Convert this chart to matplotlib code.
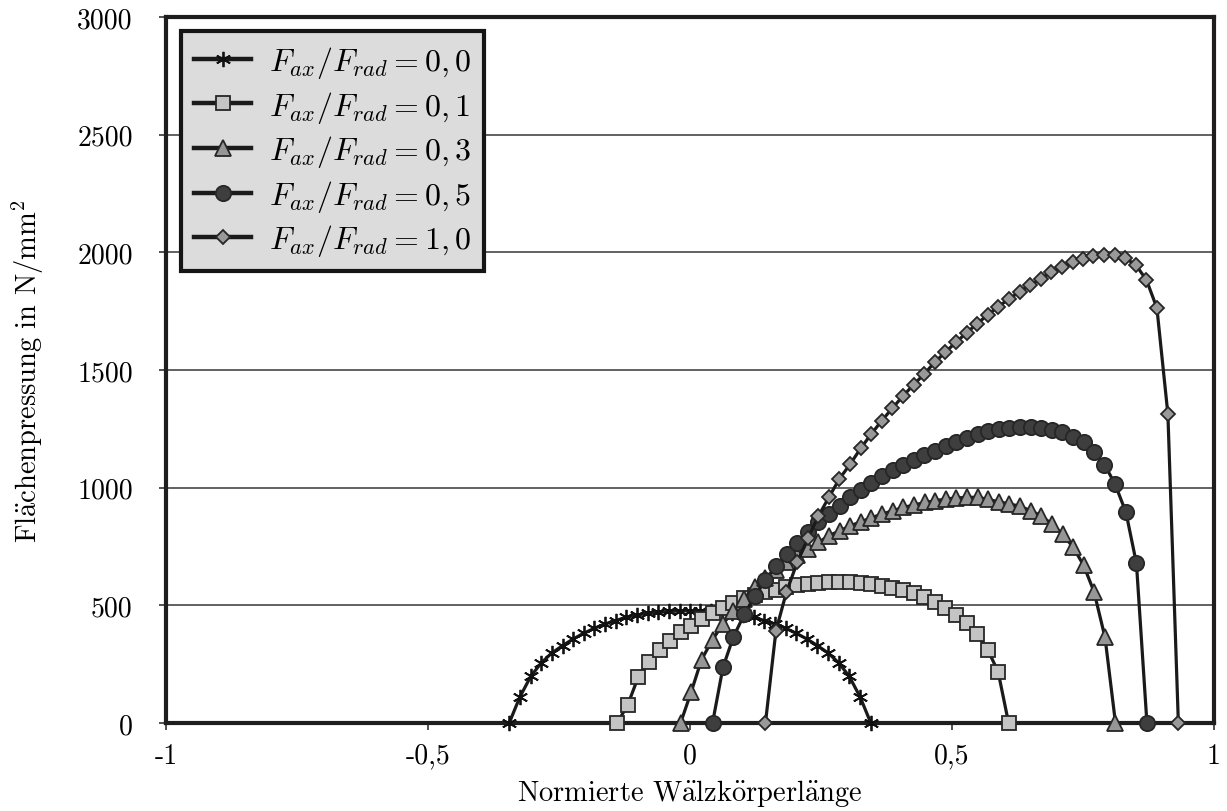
import matplotlib
matplotlib.use("Agg")
import matplotlib.pyplot as plt

plt.rcParams["font.family"] = ["cmr10", "DejaVu Serif"]
plt.rcParams["mathtext.fontset"] = "cm"
plt.rcParams["axes.unicode_minus"] = False

# Flächenpressung entlang der normierten Wälzkörperlänge
x_00 = [-0.345, -0.325, -0.304, -0.284, -0.264, -0.243, -0.223, -0.203, -0.183,
        -0.162, -0.142, -0.122, -0.101, -0.081, -0.061, -0.041, -0.020, 0.000,
        0.020, 0.041, 0.061, 0.081, 0.101, 0.122, 0.142, 0.162, 0.183, 0.203,
        0.223, 0.243, 0.264, 0.284, 0.304, 0.325, 0.345]
p_00 = [0, 109, 198, 255, 297, 329, 357, 381, 402, 421, 435, 449, 459, 466, 470,
        474, 476, 477, 476, 474, 470, 466, 459, 449, 435, 421, 402, 381, 357, 329,
        297, 255, 198, 109, 0]

x_01 = [-0.139, -0.119, -0.099, -0.078, -0.058, -0.038, -0.018, 0.002, 0.023,
        0.043, 0.063, 0.083, 0.103, 0.124, 0.144, 0.164, 0.184, 0.204, 0.225,
        0.245, 0.265, 0.285, 0.305, 0.326, 0.346, 0.366, 0.386, 0.406, 0.427,
        0.447, 0.467, 0.487, 0.507, 0.528, 0.548, 0.568, 0.588, 0.608]
p_01 = [0, 76, 194, 258, 312, 350, 385, 414, 442, 467, 487, 510, 530, 545, 555,
        566, 579, 585, 591, 595, 598, 598, 598, 595, 591, 584, 575, 564, 551, 534,
        513, 487, 459, 425, 378, 312, 218, 0]

x_03 = [-0.018, 0.002, 0.022, 0.043, 0.063, 0.083, 0.103, 0.124, 0.144, 0.164,
        0.184, 0.205, 0.225, 0.245, 0.265, 0.286, 0.306, 0.326, 0.346, 0.367,
        0.387, 0.407, 0.427, 0.448, 0.468, 0.488, 0.508, 0.528, 0.549, 0.569,
        0.589, 0.609, 0.630, 0.650, 0.670, 0.690, 0.711, 0.731, 0.751, 0.771,
        0.792, 0.812]
p_03 = [0, 130, 269, 354, 421, 477, 527, 576, 615, 652, 686, 714, 739, 767, 796,
        817, 838, 855, 872, 888, 902, 916, 926, 937, 944, 952, 956, 959, 959, 950,
        940, 931, 921, 902, 881, 846, 803, 747, 671, 558, 364, 0]

x_05 = [0.043, 0.063, 0.083, 0.104, 0.124, 0.144, 0.164, 0.185, 0.205, 0.225,
        0.245, 0.265, 0.286, 0.306, 0.326, 0.346, 0.367, 0.387, 0.407, 0.427,
        0.447, 0.468, 0.488, 0.508, 0.528, 0.549, 0.569, 0.589, 0.609, 0.629,
        0.650, 0.670, 0.690, 0.710, 0.730, 0.751, 0.771, 0.791, 0.811, 0.832,
        0.852, 0.872]
p_05 = [0, 237, 367, 463, 540, 607, 667, 718, 765, 810, 852, 888, 923, 959, 992,
        1020, 1048, 1075, 1098, 1119, 1139, 1157, 1176, 1194, 1212, 1226, 1242,
        1250, 1254, 1256, 1256, 1252, 1245, 1235, 1217, 1193, 1153, 1098, 1016,
        895, 678, 0]

x_10 = [0.144, 0.164, 0.184, 0.205, 0.225, 0.245, 0.265, 0.285, 0.306, 0.326,
        0.346, 0.366, 0.386, 0.407, 0.427, 0.447, 0.467, 0.487, 0.508, 0.528,
        0.548, 0.568, 0.588, 0.609, 0.629, 0.649, 0.669, 0.689, 0.710, 0.730,
        0.750, 0.770, 0.790, 0.811, 0.831, 0.851, 0.871, 0.891, 0.912, 0.932]
p_10 = [0, 392, 556, 685, 785, 879, 959, 1037, 1101, 1168, 1228, 1285, 1337,
        1391, 1438, 1483, 1533, 1575, 1619, 1658, 1697, 1734, 1769, 1802, 1833,
        1861, 1887, 1915, 1936, 1958, 1972, 1983, 1989, 1989, 1975, 1946, 1883,
        1764, 1313, 0]

labels = [r"$F_{ax}/F_{rad}=0,0$", r"$F_{ax}/F_{rad}=0,1$", r"$F_{ax}/F_{rad}=0,3$",
          r"$F_{ax}/F_{rad}=0,5$", r"$F_{ax}/F_{rad}=1,0$"]

x_ticks = [-1, -0.5, 0, 0.5, 1]
x_tick_labels = ["-1", "-0,5", "0", "0,5", "1"]
y_ticks = [0, 500, 1000, 1500, 2000, 2500, 3000]
y_tick_labels = ["0", "500", "1000", "1500", "2000", "2500", "3000"]

fig = plt.figure(figsize=(12.27, 8.12), dpi=100)
ax = fig.add_axes([0.1353, 0.1084, 0.8541, 0.8694])

line_kw = dict(color="#1a1a1a", lw=2.3, markeredgecolor="#262626",
               markeredgewidth=1.3)
series = [
    (x_00, p_00, dict(marker=(6, 2, 0), markersize=11, markeredgecolor="#111111",
                      markeredgewidth=1.3)),
    (x_01, p_01, dict(marker="s", markersize=10.5, markerfacecolor="#c4c4c4")),
    (x_03, p_03, dict(marker="^", markersize=11, markerfacecolor="#969696")),
    (x_05, p_05, dict(marker="o", markersize=11, markerfacecolor="#3e3e3e")),
    (x_10, p_10, dict(marker="D", markersize=7.5, markerfacecolor="#999999")),
]
for (xs, ps, mk), lab in zip(series, labels):
    kw = dict(line_kw)
    kw.update(mk)
    ax.plot(xs, ps, label=lab, zorder=3, clip_on=False, **kw)

ax.set_xlim(-1, 1)
ax.set_ylim(0, 3000)
ax.set_xticks(x_ticks)
ax.set_xticklabels(x_tick_labels)
ax.set_yticks(y_ticks)
ax.set_yticklabels(y_tick_labels)
ax.tick_params(axis="both", direction="out", length=5, width=1.2,
               color="#333333", labelsize=20)
ax.tick_params(axis="y", pad=19)
ax.tick_params(axis="x", pad=9)

ax.yaxis.grid(True, color="#555555", lw=1.3)
ax.set_axisbelow(True)
for side in ["left", "right", "top", "bottom"]:
    ax.spines[side].set_linewidth(3)
    ax.spines[side].set_color("#1e1e1e")

ax.set_xlabel(r"Normierte W$\ddot{\rm a}$lzk$\ddot{\rm o}$rperl$\ddot{\rm a}$nge",
              fontsize=20.5, labelpad=6)
ax.set_ylabel(r"Fl$\ddot{\rm a}$chenpressung in N/mm$^2$", fontsize=20.5,
              labelpad=22)

leg = ax.legend(loc="upper left", bbox_to_anchor=(0.0143, 0.98),
                borderaxespad=0, fontsize=23, handlelength=1.8,
                labelspacing=0.27, handletextpad=0.55, borderpad=0.4,
                fancybox=False, framealpha=1)
leg.get_frame().set_facecolor("#dcdcdc")
leg.get_frame().set_edgecolor("#151515")
leg.get_frame().set_linewidth(3)
for h in leg.get_lines():
    h.set_linewidth(3.2)

fig.savefig("out.png", dpi=100)
